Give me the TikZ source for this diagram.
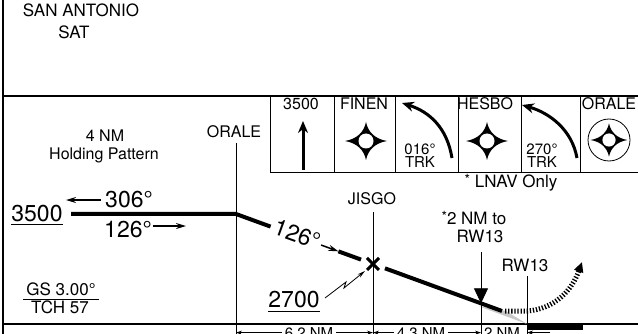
\documentclass[tikz,border=0pt]{standalone}
\usepackage{fontspec}
\setmainfont{TeX Gyre Heros}
\usepackage{tikz}
\usetikzlibrary{arrows.meta,calc}
\definecolor{wedgegray}{RGB}{200,200,200}
\tikzstyle{frameline} = [line width=1.5pt]
\tikzstyle{fixline} = [line width=0.8pt]
\tikzstyle{route} = [line width=4pt]
\tikzstyle{thinarrow} = [line width=1.5pt,-{Stealth[length=10pt,width=6pt]}]
\tikzstyle{turnarrow} = [line width=3pt,-{Stealth[length=12pt,width=10pt]}]
\tikzstyle{dimarrow} = [line width=0.8pt,-{Stealth[length=6pt,width=4pt]}]
\tikzstyle{lbl} = [inner sep=0pt, anchor=base, font=\fontsize{17}{19}\selectfont]
\tikzstyle{boxlbl} = [inner sep=0pt, anchor=base, font=\fontsize{16}{18}\selectfont]
\tikzstyle{dimlbl} = [inner sep=0pt, anchor=base, font=\fontsize{15}{17}\selectfont]
\tikzstyle{biglbl} = [inner sep=0pt, anchor=base, font=\fontsize{23}{25}\selectfont]
\tikzset{
  fixstar/.pic = {
    \fill (21,0) .. controls (9,2) and (2,9) .. (0,19)
      .. controls (-2,9) and (-9,2) .. (-21,0)
      .. controls (-9,-2) and (-2,-9) .. (0,-19)
      .. controls (2,-9) and (9,-2) .. (21,0) -- cycle;
    \fill[white] (0,0) circle (7.5);
  }
}

\begin{document}
\begin{tikzpicture}[x=1pt, y=-1pt]
    \useasboundingbox (0,0) rectangle (638,334);
    \coordinate (bot) at (0,334);

    % Frame
    \draw[line width=2.5pt] (3,0) -- (3,334);
    \draw[frameline] (3,96) -- (638,96);
    \draw[frameline] (3,324) -- (638,324);

    % Airport
    \node[lbl] (apt) at (81,17) {SAN ANTONIO};
    \node[lbl] (aptid) at (74,39) {SAT};

    % Notes boxes
    \draw[fixline] (270,96) -- (270,172) -- (638,172);
    \foreach \x in {334,395,458,521,580}
        \draw[fixline] (\x,96) -- (\x,172);

    % Climb
    \node[boxlbl] (climbalt) at (301,110) {3500};
    \coordinate (climbtail) at (303,170);
    \coordinate (climbtip) at (303,121);
    \draw[turnarrow] (climbtail) -- (climbtip);

    % FINEN
    \node[boxlbl] (finen) at (364,110) {FINEN};
    \pic at (366,141) {fixstar};

    % Turn 016
    \node[dimlbl] (trk1) at (420,155) {016°};
    \node[dimlbl] (trk1b) at (420,168) {TRK};
    \coordinate (turn1a) at (452,158);
    \coordinate (turn1b) at (402,103);
    \draw[turnarrow] (turn1a) .. controls (447,128) and (430,112) .. (turn1b);

    % HESBO
    \node[boxlbl] (hesbo) at (485,110) {HESBO};
    \pic at (487,141) {fixstar};

    % Turn 270
    \node[dimlbl] (trk2) at (542,155) {270°};
    \node[dimlbl] (trk2b) at (542,168) {TRK};
    \coordinate (turn2a) at (577,158);
    \coordinate (turn2b) at (522,105);
    \draw[turnarrow] (turn2a) .. controls (572,130) and (550,113) .. (turn2b);

    % ORALE
    \node[boxlbl] (oralebox) at (609,110) {ORALE};
    \draw[fixline] (609,140) circle (21);
    \pic[scale=0.88] at (609,140) {fixstar};

    \node[lbl] (lnav) at (511,188) {\raisebox{3pt}{\fontsize{14}{14}\selectfont *} LNAV Only};

    % Holding
    \node[boxlbl] (holdnm) at (105,142) {4 NM};
    \node[boxlbl] (holdlbl) at (104,160) {Holding Pattern};

    % Fixes
    \coordinate (hold) at (71,214);
    \coordinate (orale) at (236,214);
    \coordinate (tdz) at (502,311);
    \coordinate (jisgo) at ($(orale)!0.515!(tdz)$);
    \coordinate (vdp) at ($(orale)!0.921!(tdz)$);
    \coordinate (thr) at (527,324);

    \node[boxlbl] (oralelbl) at (234,138) {ORALE};
    \coordinate (oraletop) at (236,143);
    \draw[fixline] (oraletop) -- (oraletop |- bot);

    \node[boxlbl] (jisgolbl) at (372,205) {JISGO};
    \coordinate (jisgotop) at ($(jisgo)+(0,-52)$);
    \draw[fixline] (jisgotop) -- (jisgotop |- bot);

    % Route
    \fill[wedgegray] ($(vdp)+(-2,3)$) -- (thr) -- ($(tdz)+(4,0)$) -- cycle;
    \draw[route] (hold) -- (orale) -- ($(orale)!0.13!(tdz)$);
    \draw[route] ($(orale)!0.385!(tdz)$) -- ($(orale)!0.47!(tdz)$);
    \draw[route] ($(orale)!0.56!(tdz)$) -- (tdz);
    \node[biglbl, anchor=center, rotate=-20] (inbd) at ($(orale)!0.23!(tdz)+(0,-2)$) {126°};
    \draw[thinarrow] ($(orale)!0.32!(tdz)$) -- ($(orale)!0.385!(tdz)$);

    % JISGO cross
    \draw[line width=3pt] ($(jisgo)+(-6,-6)$) -- ($(jisgo)+(6,6)$)
        ($(jisgo)+(6,-6)$) -- ($(jisgo)+(-6,6)$);

    \node[biglbl] (jisgoalt) at (294,307) {2700};
    \draw[line width=1pt] ($(jisgoalt.south west)+(0,4)$) -- ($(jisgoalt.south east)+(0,4)$);
    \coordinate (zig) at (325,298);
    \draw[fixline,-{Stealth[length=8pt,width=4pt]}] (zig) -- (346,282) -- (344,288) -- ($(jisgo)+(-8,7)$);

    % Missed approach
    \draw[line width=5pt, dash pattern=on 1.3pt off 1.8pt, -{Triangle[length=10pt,width=9pt]}]
        ($(tdz)+(3,0)$) -- ++(22,0) .. controls (555,309) and (572,290) .. (582,262);

    % VDP
    \node[lbl] (vdplbl1) at (474,225) {\raisebox{3pt}{\fontsize{14}{14}\selectfont *}2 NM to};
    \node[lbl] (vdplbl2) at (480,243) {RW13};
    \coordinate (vdptop) at ($(vdp)+(0,-51)$);
    \draw[fixline,-{Triangle[length=15pt,width=14pt]}] (vdptop) -- (vdp);
    \draw[fixline] (vdp) -- (vdp |- bot);

    % Threshold
    \node[lbl] (thrlbl) at (525,272) {RW13};
    \coordinate (thrtop) at (527,276);
    \draw[fixline] (thrtop) -- (thrtop |- bot);
    \fill (thr) rectangle (583,330);

    % Glide slope
    \node[lbl] (gs) at (61,295) {GS 3.00°};
    \draw[fixline] ($(gs.south west)+(-3,4)$) -- ($(gs.south east)+(3,4)$);
    \node[lbl] (tch) at (60,313) {TCH 57};

    % Altitudes
    \node[biglbl] (holdalt) at (37,222) {3500};
    \draw[line width=1pt] ($(holdalt.south west)+(0,2)$) -- ($(holdalt.south east)+(0,2)$);
    \node[biglbl] (outbd) at (129,208) {306°};
    \node[biglbl] (inbdhold) at (128,237) {126°};
    \draw[thinarrow] ($(outbd.west)+(-4,0)$) -- ++(-35,0);
    \draw[thinarrow] ($(inbdhold.east)+(1,-3)$) -- ++(33,0);

    % Distances
    \node[dimlbl] (d1) at (309,338) {6.2 NM};
    \draw[dimarrow] ($(d1.west)+(-3,0)$) -- (d1.west -| orale);
    \draw[dimarrow] ($(d1.east)+(3,0)$) -- (d1.east -| jisgo);
    \node[dimlbl] (d2) at (421,338) {4.3 NM};
    \draw[dimarrow] ($(d2.west)+(-3,0)$) -- (d2.west -| jisgo);
    \draw[dimarrow] ($(d2.east)+(3,0)$) -- (d2.east -| vdp);
    \node[dimlbl] (d3) at (502,338) {2 NM};
    \draw[dimarrow] ($(d3.east -| thr)+(23,0)$) -- (d3.east -| thr);
\end{tikzpicture}
\end{document}
